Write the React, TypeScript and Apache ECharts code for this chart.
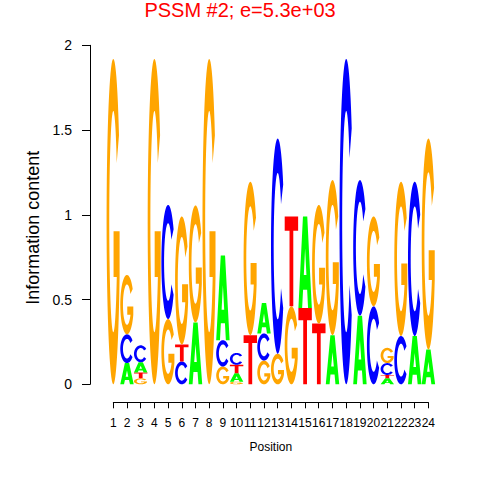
import React, { useEffect, useRef } from "react";
import * as echarts from "echarts";

const positions = [1, 2, 3, 4, 5, 6, 7, 8, 9, 10, 11, 12, 13, 14, 15, 16, 17, 18, 19, 20, 21, 22, 23, 24];
const bitsA = [0, 0.125, 0.06, 0, 0, 0, 0.365, 0, 0.5, 0.05, 0, 0.18, 0, 0, 0.54, 0, 0.29, 0, 0.405, 0, 0.035, 0, 0.285, 0.205];
const bitsC = [0, 0.17, 0.1, 0, 0.673, 0.135, 0, 0, 0.155, 0.07, 0, 0.16, 1.27, 0, 0, 0, 0, 1.92, 0.8, 0.46, 0.07, 0.285, 0.91, 0];
const bitsG = [1.92, 0.35, 0.035, 1.92, 0.385, 0.755, 0.69, 1.92, 0.105, 0.015, 0.905, 0.14, 0.18, 0.46, 0, 0.7, 0.915, 0, 0, 0.53, 0.09, 0.91, 0, 1.245];
const bitsT = [0, 0, 0.035, 0, 0, 0.1, 0, 0, 0, 0.05, 0.29, 0, 0, 0.53, 0.45, 0.358, 0, 0, 0, 0, 0.02, 0, 0, 0];
// bottom-to-top stacking order per position
const stackOrder = ["G", "ACG", "GTAC", "G", "GC", "CTG", "AG", "G", "GCA", "GATC", "TG", "GCA", "GC", "GT", "TA", "TG", "AG", "C", "AC", "CG", "ATCG", "CG", "AC", "AG"];
const letters = ["A", "C", "G", "T"];
const letterColors = ["#00FF00", "#0000FF", "#FFA500", "#FF0000"];
const yTicks = [0, 0.5, 1, 1.5, 2];

const FONT = "'Liberation Sans', Arial, Helvetica, sans-serif";

type Pt = [number, number];
const arcPts = (cx: number, cy: number, rx: number, ry: number, a0: number, a1: number, n: number): Pt[] => {
  const out: Pt[] = [];
  for (let i = 0; i <= n; i++) {
    const t = ((a0 + ((a1 - a0) * i) / n) * Math.PI) / 180;
    out.push([cx + rx * Math.cos(t), cy + ry * Math.sin(t)]);
  }
  return out;
};

const GLYPHS: Record<string, Pt[][]> = {
  A: [
    [[0, 0], [0.34, 1], [0.66, 1], [1, 0], [0.72, 0], [0.652, 0.2], [0.348, 0.2], [0.28, 0]],
    [[0.402, 0.36], [0.598, 0.36], [0.5, 0.65]],
  ],
  C: [[...arcPts(0.5, 0.5, 0.5, 0.5, 35, 325, 60), ...arcPts(0.5, 0.5, 0.3, 0.34, 325, 35, 60)]],
  G: [[
    ...arcPts(0.5, 0.5, 0.5, 0.5, 32, 340, 60),
    [0.97, 0.47], [0.52, 0.47], [0.52, 0.33], [0.76, 0.33],
    ...arcPts(0.5, 0.5, 0.3, 0.34, 330, 32, 60),
  ]],
  T: [[[0, 1], [1, 1], [1, 0.84], [0.64, 0.84], [0.64, 0], [0.36, 0], [0.36, 0.84], [0, 0.84]]],
};

const bitsByLetter: Record<string, number[]> = { A: bitsA, C: bitsC, G: bitsG, T: bitsT };

function buildData() {
  const data: number[][] = [];
  positions.forEach((p, i) => {
    let base = 0;
    for (const L of stackOrder[i].split("")) {
      const h = bitsByLetter[L][i];
      if (h <= 0) continue;
      data.push([p, base, base + h, letters.indexOf(L)]);
      base += h;
    }
  });
  return data;
}

export default function App() {
  const ref = useRef<HTMLDivElement>(null);
  useEffect(() => {
    if (!ref.current) return;
    const chart = echarts.init(ref.current, null, { renderer: "svg" });
    const gridTop = 45.3;
    const gridBottom = 480 - 384.3;
    chart.setOption({
      animation: false,
      backgroundColor: "#ffffff",
      title: {
        text: "PSSM #2; e=5.3e+03",
        left: "center",
        top: 0,
        padding: 0,
        textStyle: { color: "#FF0000", fontSize: 20, fontWeight: "normal", fontFamily: FONT },
      },
      grid: [
        { left: 90, top: gridTop, width: 363.5, bottom: gridBottom },
        { left: 113.3, top: gridTop, right: 480 - 428.3, bottom: gridBottom },
      ],
      xAxis: [
        { type: "value", gridIndex: 0, min: -0.7, max: 25.83, show: false },
        {
          type: "value",
          gridIndex: 1,
          min: 1,
          max: 24,
          interval: 1,
          offset: 18,
          name: "Position",
          nameLocation: "middle",
          nameGap: 39,
          nameTextStyle: { color: "#000", fontSize: 12, fontFamily: FONT },
          axisLine: { show: true, onZero: false, lineStyle: { color: "#000", width: 1 } },
          axisTick: { show: true, inside: false, length: 6, lineStyle: { color: "#000" } },
          axisLabel: { show: true, color: "#000", fontSize: 12, fontFamily: FONT, margin: 15 },
          splitLine: { show: false },
        },
      ],
      yAxis: [
        {
          type: "value",
          gridIndex: 0,
          min: yTicks[0],
          max: yTicks[yTicks.length - 1],
          interval: 0.5,
          name: "Information content",
          nameLocation: "middle",
          nameGap: 37,
          nameTextStyle: { color: "#000", fontSize: 18, fontFamily: FONT, padding: [0, 26, 0, 0] },
          axisLine: { show: true, onZero: false, lineStyle: { color: "#000", width: 1 } },
          axisTick: { show: true, inside: false, length: 8, lineStyle: { color: "#000" } },
          axisLabel: { show: true, color: "#000", fontSize: 14, fontFamily: FONT, margin: 18 },
          splitLine: { show: false },
        },
        { type: "value", gridIndex: 1, min: 0, max: 2, show: false },
      ],
      series: [
        {
          type: "custom",
          xAxisIndex: 0,
          yAxisIndex: 0,
          data: buildData(),
          renderItem: (params: any, api: any) => {
            const pos = api.value(0);
            const y0 = api.value(1);
            const y1 = api.value(2);
            const li = api.value(3);
            const p0 = api.coord([pos - 0.49, y0]);
            const p1 = api.coord([pos + 0.49, y1]);
            const x = p0[0];
            const w = p1[0] - p0[0];
            const yb = p0[1];
            const h = p0[1] - p1[1];
            const contours = GLYPHS[letters[li]];
            let d = "";
            for (const c of contours) {
              c.forEach(([ux, uy], k) => {
                d += (k ? "L" : "M") + (x + ux * w).toFixed(2) + " " + (yb - uy * h).toFixed(2);
              });
              d += "Z";
            }
            return { type: "path", shape: { pathData: d }, style: { fill: letterColors[li] } };
          },
        },
      ],
    });
    return () => chart.dispose();
  }, []);
  return (
    <div
      ref={ref}
      style={{ position: "absolute", left: 0, top: 0, width: 480, height: 480 }}
    />
  );
}
